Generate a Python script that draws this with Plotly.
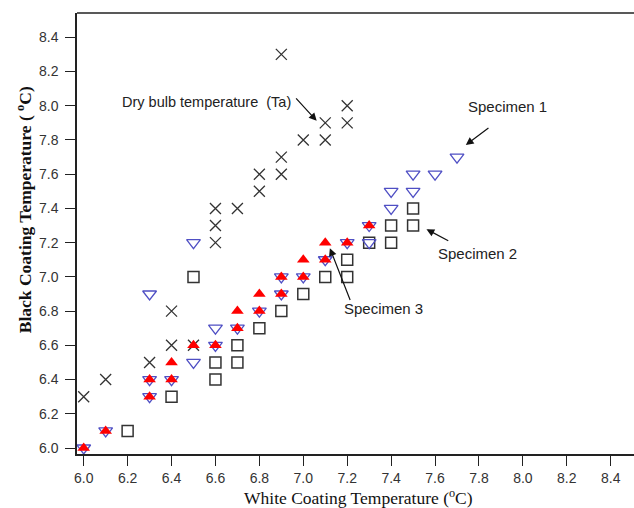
import plotly.graph_objects as go

# Dry bulb temperature (Ta)
ta_x = [6.0, 6.1, 6.3, 6.4, 6.4, 6.5, 6.6, 6.6, 6.6, 6.7, 6.8, 6.8, 6.9, 6.9, 6.9, 7.0, 7.1, 7.1, 7.2, 7.2]
ta_y = [6.3, 6.4, 6.5, 6.6, 6.8, 6.6, 7.2, 7.3, 7.4, 7.4, 7.5, 7.6, 7.6, 7.7, 8.3, 7.8, 7.8, 7.9, 7.9, 8.0]

# Specimen 1
s1_x = [6.0, 6.1, 6.3, 6.3, 6.3, 6.4, 6.5, 6.5, 6.6, 6.6, 6.7, 6.8, 6.9, 6.9, 7.0, 7.1, 7.2, 7.3, 7.3, 7.4, 7.4, 7.5, 7.5, 7.6, 7.7]
s1_y = [6.0, 6.1, 6.3, 6.4, 6.9, 6.4, 6.5, 7.2, 6.6, 6.7, 6.7, 6.8, 6.9, 7.0, 7.0, 7.1, 7.2, 7.2, 7.3, 7.4, 7.5, 7.5, 7.6, 7.6, 7.7]

# Specimen 2
s2_x = [6.2, 6.4, 6.5, 6.6, 6.6, 6.7, 6.7, 6.8, 6.9, 7.0, 7.1, 7.2, 7.2, 7.3, 7.4, 7.4, 7.5, 7.5]
s2_y = [6.1, 6.3, 7.0, 6.4, 6.5, 6.5, 6.6, 6.7, 6.8, 6.9, 7.0, 7.0, 7.1, 7.2, 7.2, 7.3, 7.3, 7.4]

# Specimen 3
s3_x = [6.0, 6.1, 6.3, 6.3, 6.4, 6.4, 6.5, 6.6, 6.7, 6.7, 6.8, 6.8, 6.9, 6.9, 7.0, 7.0, 7.1, 7.1, 7.2, 7.3]
s3_y = [6.0, 6.1, 6.3, 6.4, 6.4, 6.5, 6.6, 6.6, 6.7, 6.8, 6.8, 6.9, 6.9, 7.0, 7.0, 7.1, 7.1, 7.2, 7.2, 7.3]

tick_vals = [6.0, 6.2, 6.4, 6.6, 6.8, 7.0, 7.2, 7.4, 7.6, 7.8, 8.0, 8.2, 8.4]
tick_text = ["6.0", "6.2", "6.4", "6.6", "6.8", "7.0", "7.2", "7.4", "7.6", "7.8", "8.0", "8.2", "8.4"]

BLUE = "#4f4fc4"
DARK = "#333333"

fig = go.Figure()
fig.add_trace(go.Scatter(x=s2_x, y=s2_y, mode="markers", name="Specimen 2",
                         marker=dict(symbol="square-open", size=11, color=DARK,
                                     line=dict(color=DARK, width=1.5))))
fig.add_trace(go.Scatter(x=ta_x, y=ta_y, mode="markers", name="Dry bulb temperature (Ta)",
                         marker=dict(symbol="x-thin", size=11, color=DARK,
                                     line=dict(color=DARK, width=1.3))))
fig.add_trace(go.Scatter(x=s1_x, y=s1_y, mode="markers", name="Specimen 1",
                         marker=dict(symbol="triangle-down-open", size=12, color=BLUE,
                                     line=dict(color=BLUE, width=1.3))))
fig.add_trace(go.Scatter(x=s3_x, y=s3_y, mode="markers", name="Specimen 3",
                         marker=dict(symbol="triangle-up", size=11, color="#ff0000",
                                     line=dict(width=0))))

txt_font = dict(family="Liberation Sans, Arial, sans-serif", size=15, color="#222222")
ser_font = dict(family="Liberation Serif, Times New Roman, serif", size=17, color="#111111")

annotations = [
    dict(x=6.558, y=8.024, text="Dry bulb temperature  (Ta)", showarrow=False, font=dict(txt_font, size=14.5)),
    dict(x=7.929, y=7.993, text="Specimen 1", showarrow=False, font=txt_font),
    dict(x=7.795, y=7.135, text="Specimen 2", showarrow=False, font=txt_font),
    dict(x=7.364, y=6.813, text="Specimen 3", showarrow=False, font=txt_font),
]
arrows = [
    (7.061, 7.912, 6.961, 8.052),
    (7.740, 7.771, 7.850, 7.876),
    (7.561, 7.279, 7.667, 7.206),
    (7.121, 7.168, 7.216, 6.856),
]
for hx, hy, tx, ty in arrows:
    annotations.append(dict(x=hx, y=hy, ax=tx, ay=ty, xref="x", yref="y", axref="x", ayref="y",
                            text="", showarrow=True, arrowhead=2, arrowsize=1.3, arrowwidth=1.2,
                            arrowcolor="#111111", standoff=0, startstandoff=0))

annotations.append(dict(xref="paper", yref="paper", x=0.5045, y=-0.097, xanchor="center", yanchor="middle",
                        text="White Coating Temperature (<sup>o</sup>C)", showarrow=False,
                        font=dict(ser_font, size=17.5)))
annotations.append(dict(xref="paper", yref="paper", x=-0.095, y=0.553, xanchor="center", yanchor="middle",
                        textangle=-90, text="<b>Black Coating Temperature ( <sup>o</sup>C)</b>",
                        showarrow=False, font=dict(ser_font, size=17.5)))

fig.update_layout(
    width=634, height=508,
    margin=dict(l=77, r=0, t=13, b=54, autoexpand=False),
    paper_bgcolor="white", plot_bgcolor="white",
    showlegend=False,
    annotations=annotations,
    shapes=[dict(type="line", xref="paper", yref="paper", x0=0, x1=1, y0=1, y1=1,
                 line=dict(color="#222222", width=1.5))],
)
fig.update_xaxes(range=[5.9695, 8.506], tickvals=tick_vals, ticktext=tick_text, automargin=False,
                 showgrid=False, zeroline=False, showline=True, linecolor="#222222", linewidth=1.5,
                 ticks="outside", ticklen=10, tickwidth=1.3, tickcolor="#222222",
                 tickfont=dict(family="Liberation Sans, Arial, sans-serif", size=14, color="#333333"))
fig.update_yaxes(range=[5.965, 8.542], tickvals=tick_vals, ticktext=tick_text, automargin=False,
                 showgrid=False, zeroline=False, showline=True, linecolor="#222222", linewidth=1.5,
                 ticks="outside", ticklen=10, tickwidth=1.3, tickcolor="#222222",
                 ticklabelstandoff=4,
                 tickfont=dict(family="Liberation Sans, Arial, sans-serif", size=14, color="#333333"))

fig.write_html("out.html", config={"displayModeBar": False},
               post_script="document.body.style.margin='0';document.body.style.padding='0';"
                           "document.body.style.overflow='hidden';")
